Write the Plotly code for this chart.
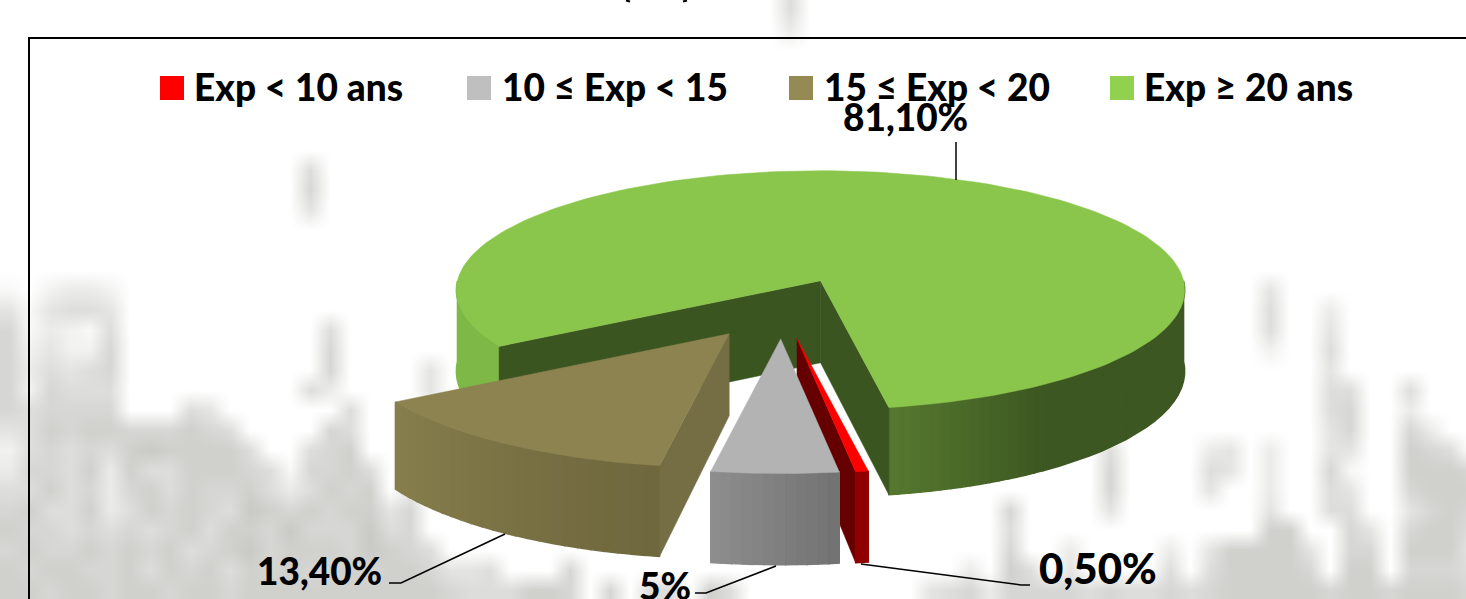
import math
import plotly.graph_objects as go

# ---- data -------------------------------------------------------------
CATEGORIES = ["Exp < 10 ans", "10 ≤ Exp < 15", "15 ≤ Exp < 20", "Exp ≥ 20 ans"]
VALUES = [0.5, 5, 13.4, 81.1]
VALUE_LABELS = ["0,50%", "5%", "13,40%", "81,10%"]
LEGEND_COLORS = ["#FF0000", "#BFBFBF", "#948A54", "#92D050"]

# blurred grey watermark behind the chart, one digit per 20x20 px cell
WATERMARK = [
    "0000000000 0000000000 0000000000 0000000005",
    "0000000000 0000000000 0000000000 0000000003",
    "", "", "", "", "", "",
    "0000000000 0000050000",
    "0000000000 0000060000",
    "0000000000 0000040000",
    "", "", "",
    "1023320000 0000000000 0000000000 0000000000 0000000000 0000000000 0004000000",
    "4145540000 0000000000 0000000000 0000000000 0000000000 0000000000 0005003000",
    "6132150000 0000005000 0000000000 0000000000 0000000000 0000000000 0005004000",
    "6242260000 0000006000 0000000000 0000000000 0000000000 0000000000 0002005000",
    "6354560000 0000006000 0400000000 0000000000 0000000000 0000000000 0000004000",
    "6265550000 0000053000 0400000000 0000000000 0000000000 0000000000 0000005500 5000",
    "6566660005 4000000500 0000000000 0000000000 0000000000 0000000000 0000005600 3000",
    "4576776667 6500006500 0500000000 0000000000 0000000000 0000000000 0000004600 6300",
    "2565657877 7750056700 0500000000 0000000000 0000000000 0000050000 3403004400 7650",
    "3665737557 7765166750 0300000000 0000000000 0000000000 0000060000 5403006100 7776",
    "5575636757 6675357670 3000000000 0000000000 0000000000 0000060000 4003005400 6777",
    "6755735767 6587676774 6000000000 0000000000 0000000000 6000040000 0004005500 4676",
    "7665656567 5776866685 6000000000 0000000000 0000000000 5000000000 0007700640 6775",
    "6766767675 6786777687 6500000000 0000000000 0000000000 6003000030 4777740660 7774",
    "7677667576 7576766767 7644500060 0000000000 0000000030 7504000050 5777760770 6665",
    "7767767767 7677777777 7765557760 6055075000 0000004563 6666565565 6777776776 7776",
]
WATERMARK_ROWS = [[int(c) for c in r.replace(" ", "").ljust(74, "0")] for r in WATERMARK]

# ---- pie projection ----------------------------------------------------
CENTER = (782, 308.6)
RX, RY = 370, 121
DEPTH = 82
PULL = 0.26
PULL_RX, PULL_RY = 364, 117
PERSP = 0.08
FIRST_SLICE_ANGLE = 170


def rim(apex, phi, floor=False, mid=0.0):
    a = math.radians(phi)
    u, v = math.sin(a), -math.cos(a)
    vm = -math.cos(math.radians(mid))
    s = 1 / (1 - PERSP * (v + PULL * vm))
    return apex[0] + RX * u * s, apex[1] + RY * v * s + (DEPTH * s if floor else 0)


def arc(apex, p0, p1, mid, floor=False, n=80):
    return [rim(apex, p0 + (p1 - p0) * i / n, floor, mid) for i in range(n + 1)]


def mix(c0, c1, t):
    a = [int(c0[i:i + 2], 16) for i in (1, 3, 5)]
    b = [int(c1[i:i + 2], 16) for i in (1, 3, 5)]
    return "#%02x%02x%02x" % tuple(round(x + (y - x) * t) for x, y in zip(a, b))


fig = go.Figure()

fig.add_trace(go.Heatmap(
    z=WATERMARK_ROWS,
    x=[10 + 20 * i for i in range(74)],
    y=[10 + 20 * j for j in range(len(WATERMARK_ROWS))],
    zmin=0, zmax=9, zsmooth="best", showscale=False, hoverinfo="skip",
    colorscale=[[0, "#FFFFFF"], [1, "#C2C2BE"]],
))


def poly(points, color, name, width=0.5):
    xs = [p[0] for p in points] + [points[0][0]]
    ys = [p[1] for p in points] + [points[0][1]]
    fig.add_trace(go.Scatter(
        x=xs, y=ys, mode="lines", fill="toself", fillcolor=color,
        line=dict(color=color, width=width), name=name,
        showlegend=False, hoverinfo="name",
    ))


def wall(apex, p0, p1, c0, c1, name, mid, n=14):
    step = (p1 - p0) / n
    for i in range(n):
        a = p0 + step * i
        b = p0 + step * (i + 1)
        pts = arc(apex, a, b, mid, False, 6) + arc(apex, b, a, mid, True, 6)
        poly(pts, mix(c0, c1, (i + 0.5) / n), name, width=1.4)


# slice angular extents, clockwise from 12 o'clock, from the values
total = sum(VALUES)
spans, ang = [], FIRST_SLICE_ANGLE
for val in VALUES:
    spans.append((ang, ang + 360 * val / total))
    ang = spans[-1][1]

mids = [(p0 + p1) / 2 for p0, p1 in spans]
apexes = [(CENTER[0] + PULL * PULL_RX * math.sin(math.radians(m)),
           CENTER[1] - PULL * PULL_RY * math.cos(math.radians(m))) for m in mids]

RED, GREY, TAN, GREEN = 0, 1, 2, 3


def side(apex, phi, color, name, mid):
    poly([apex, rim(apex, phi, False, mid), rim(apex, phi, True, mid), (apex[0], apex[1] + DEPTH)], color, name)


def top(apex, p0, p1, color, name, mid):
    poly([apex] + arc(apex, p0, p1, mid, n=160), color, name)


# green (back)
a, (p0, p1), nm, m = apexes[GREEN], spans[GREEN], CATEGORIES[GREEN], mids[GREEN]
wall(a, p0, 270, "#7EB846", "#7EB846", nm, m, n=2)
wall(a, 450, 505, "#3C5721", "#3C5721", nm, m, n=3)
wall(a, 505, p1, "#3C5721", "#56782F", nm, m, n=16)
side(a, p0, "#3B5520", nm, m)
side(a, p1, "#3B5520", nm, m)
top(a, p0, p1, "#8AC64C", nm, m)

# tan
a, (p0, p1), nm, m = apexes[TAN], spans[TAN], CATEGORIES[TAN], mids[TAN]
wall(a, p1, p0, "#877E4C", "#6E673D", nm, m, n=24)
side(a, p0, "#756D43", nm, m)
top(a, p0, p1, "#8D8350", nm, m)

# red
a, (p0, p1), nm, m = apexes[RED], spans[RED], CATEGORIES[RED], mids[RED]
side(a, p1, "#660000", nm, m)
wall(a, p0, p1, "#900000", "#900000", nm, m, n=1)
top(a, p0, p1, "#FF0000", nm, m)

# grey
a, (p0, p1), nm, m = apexes[GREY], spans[GREY], CATEGORIES[GREY], mids[GREY]
wall(a, p1, p0, "#8E8E8E", "#727272", nm, m, n=12)
top(a, p0, p1, "#B3B3B3", nm, m)

# ---- frame, legend, labels ---------------------------------------------
FONT = "Lato"
shapes = [
    dict(type="line", x0=29, x1=29, y0=38, y1=599, line=dict(color="black", width=2)),
    dict(type="line", x0=28, x1=1466, y0=38, y1=38, line=dict(color="black", width=2)),
    dict(type="line", x0=626, x1=630, y0=0.5, y1=1.5, line=dict(color="black", width=2)),
    dict(type="line", x0=683, x1=687, y0=1.5, y1=0.5, line=dict(color="black", width=2)),
]
annotations = []


def text(x, y, s, size, anchor="left"):
    annotations.append(dict(x=x, y=y, text=s, xref="x", yref="y", showarrow=False, xanchor=anchor,
                            yanchor="middle", font=dict(family=FONT, size=size, color="black", weight=900)))


SW_X = [160, 467, 789, 1110]
TX_X = [192, 500, 822, 1142]
for c, col, sx, tx in zip(CATEGORIES, LEGEND_COLORS, SW_X, TX_X):
    shapes.append(dict(type="rect", x0=sx, x1=sx + 24, y0=76, y1=100, fillcolor=col, line=dict(width=0)))
    text(tx, 86, c, 37)

LEADERS = [
    [(1030, 585), (1021, 585), (861, 564)],
    [(695, 593), (706, 593), (776, 566)],
    [(389, 583), (401, 583), (505, 534)],
    [(956, 142), (956, 180)],
]
for pts in LEADERS:
    d = "M" + " L".join(f"{x},{y}" for x, y in pts)
    shapes.append(dict(type="path", path=d, line=dict(color="black", width=1.5)))

text(1037, 568, VALUE_LABELS[0], 42)
text(637, 585, VALUE_LABELS[1], 37)
text(255, 570, VALUE_LABELS[2], 37)
text(905, 116, VALUE_LABELS[3], 37, "center")

fig.update_layout(
    width=1466, height=599, autosize=False,
    margin=dict(l=0, r=0, t=0, b=0),
    paper_bgcolor="white", plot_bgcolor="rgba(0,0,0,0)",
    xaxis=dict(range=[0, 1466], visible=False, fixedrange=True),
    yaxis=dict(range=[599, 0], visible=False, fixedrange=True),
    showlegend=False, shapes=shapes, annotations=annotations,
)
fig.write_html("out.html", config=dict(displayModeBar=False),
               post_script="document.body.style.margin='0';document.body.style.overflow='hidden';")
